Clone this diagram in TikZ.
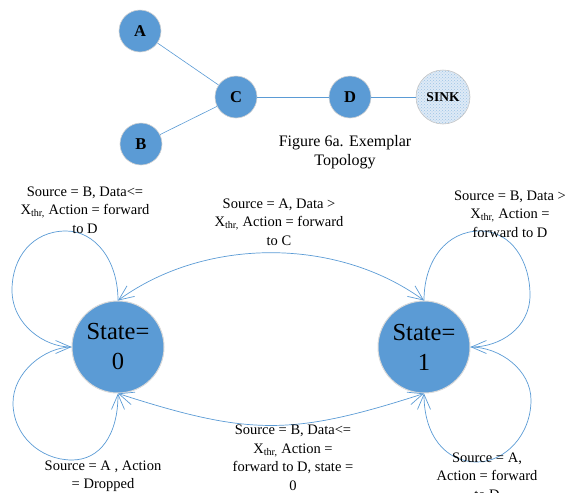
\documentclass[tikz,border=0pt]{standalone}
\usepackage{fontspec}
\setmainfont{Liberation Serif}
\usetikzlibrary{arrows.meta,patterns}
\definecolor{nodeblue}{HTML}{5B9BD5}
\definecolor{sinkblue}{HTML}{DEEAF6}
\definecolor{sinkdot}{HTML}{9DC3E6}

\begin{document}
\begin{tikzpicture}[x=1pt,y=-1pt,
		>={Straight Barb[length=15pt,width=13pt]},
		topo/.style={circle,fill=nodeblue,draw=gray!35,line width=0.6pt,minimum size=42pt,inner sep=0pt,font=\fontsize{16.5}{18}\selectfont\bfseries},
		sink/.style={circle,preaction={fill=sinkblue},pattern=crosshatch dots,pattern color=sinkdot,draw=gray!45,line width=0.6pt,minimum size=54pt,inner sep=0pt,font=\fontsize{13.5}{15}\selectfont\bfseries},
		link/.style={draw=nodeblue,line width=0.6pt},
		state/.style={circle,fill=nodeblue,draw=gray!30,line width=1pt,minimum size=92pt,inner sep=0pt,align=center,font=\fontsize{24.5}{30}\selectfont},
		trans/.style={draw=nodeblue,line width=0.7pt},
		lbl/.style={align=center,inner sep=0pt,font=\fontsize{14.5}{18.5}\selectfont}]
		\useasboundingbox (0,0) rectangle (566,493);
		
		%topology
		\node[topo] (a) at (140,31) {A};
		\node[topo] (b) at (141,144) {B};
		\node[topo] (c) at (236,97) {C};
		\node[topo] (d) at (350,97) {D};
		\node[sink] (sink) at (443,97) {SINK};
		\draw[link] (a) -- (c);
		\draw[link] (b) -- (c);
		\draw[link] (c) -- (d);
		\draw[link] (d) -- (sink);
		\node[lbl,font=\fontsize{16}{19.5}\selectfont] (caption) at (345,152) {Figure 6a. Exemplar\\Topology};
		
		%states
		\node[state] (s0) at (118,347) {State=\\0};
		\node[state] (s1) at (424,347) {State=\\1};
		
		%between the states
		\draw[trans,<->] (s0.north) .. controls (205,237) and (337,237) .. (s1.north);
		\draw[trans,<->] (s0.south) .. controls (250,436) and (292,436) .. (s1.south);
		
		%loops state 0
		\draw[trans,->] (s0.north) .. controls (118,260) and (95,231) .. (66,231)
			.. controls (32,231) and (12,258) .. (12,290)
			.. controls (12,325) and (45,347) .. (s0.west);
		\draw[trans,->] (s0.west) .. controls (45,347) and (13,372) .. (13,403)
			.. controls (13,435) and (40,460) .. (72,460)
			.. controls (100,460) and (118,435) .. (s0.south);
		
		%loops state 1
		\draw[trans,->] (s1.north) .. controls (424,260) and (447,231) .. (480,231)
			.. controls (512,231) and (530,262) .. (530,295)
			.. controls (530,328) and (500,347) .. (s1.east);
		\draw[trans,->] (s1.east) .. controls (500,347) and (531,370) .. (531,400)
			.. controls (531,435) and (505,462) .. (477,462)
			.. controls (445,462) and (424,435) .. (s1.south);
		
		%labels
		\node[lbl] (l00b) at (85,210) {Source = B, Data<=\\X\textsubscript{thr,} Action = forward\\to D};
		\node[lbl] (l01) at (279,222) {Source = A, Data >\\X\textsubscript{thr,} Action = forward\\to C};
		\node[lbl] (l11b) at (510,214) {Source = B, Data >\\X\textsubscript{thr,} Action =\\forward to D};
		\node[lbl] (l00a) at (103,476) {Source = A , Action\\= Dropped};
		\node[lbl] (l10) at (293,458) {Source = B, Data<=\\X\textsubscript{thr,} Action =\\forward to D, state =\\0};
		\node[lbl] (l11a) at (487,476) {Source = A,\\Action = forward\\to D};
	\end{tikzpicture}
\end{document}
